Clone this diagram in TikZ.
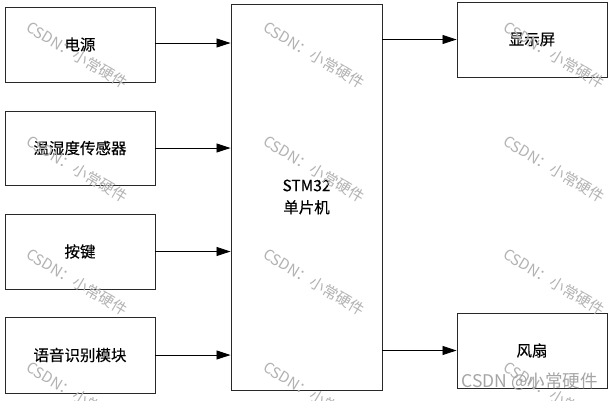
\documentclass[tikz,border=0pt]{standalone}
\usepackage{fontspec}
\newfontfamily\cjk{Noto Sans CJK SC}
\newfontfamily\cjkb[FakeBold=0.12]{Noto Sans CJK SC}
\usetikzlibrary{arrows.meta}
\definecolor{wm}{RGB}{178,178,178}
\definecolor{wm2}{RGB}{165,165,165}
\definecolor{edge}{RGB}{40,40,40}
\tikzset{
  blk/.style={draw=edge, line width=0.9pt, fill=white, inner sep=0pt, font=\cjkb\fontsize{15.5}{22}\selectfont, align=center},
  conn/.style={line width=0.8pt, -{Triangle[length=14pt,width=9pt]}},
  wmark/.style={font=\cjk\fontsize{15}{15}\selectfont, text=wm, rotate=-31, inner sep=0pt},
}
\begin{document}
\begin{tikzpicture}[x=1pt,y=-1pt]
\useasboundingbox (0,0) rectangle (613,400);
% boxes
\node[blk, minimum width=150pt, minimum height=75pt] (pwr)  at (80,44.5)  {电源};
\node[blk, minimum width=150pt, minimum height=74pt] (sens) at (80,148)   {温湿度传感器};
\node[blk, minimum width=150pt, minimum height=75pt] (key)  at (80,251.5) {按键};
\node[blk, minimum width=150pt, minimum height=76pt] (voice) at (80,355)  {语音识别模块};
\node[blk, minimum width=151pt, minimum height=386pt] (mcu) at (306.5,197) {STM32\\单片机};
\node[blk, minimum width=150pt, minimum height=75pt] (disp) at (532,39.5)  {显示屏};
\node[blk, minimum width=150pt, minimum height=75pt] (fan)  at (532,350.5) {风扇};
% connectors
\draw[conn] ([yshift=1.5pt]pwr.east) -- ([yshift=1.5pt]pwr.east -| mcu.west);
\draw[conn] (sens.east) -- (sens.east -| mcu.west);
\draw[conn] (key.east) -- (key.east -| mcu.west);
\draw[conn] (voice.east) -- (voice.east -| mcu.west);
\draw[conn] (disp.west -| mcu.east) -- (disp.west);
\draw[conn] (fan.west -| mcu.east) -- (fan.west);
% watermarks
\foreach \wx in {77,314,554} {
  \foreach \wy in {55,169,282,395} {
    \node[wmark] at (\wx,\wy) {CSDN：小常硬件};
  }
}
\node[font=\cjk\fontsize{17.5}{17.5}\selectfont, text=wm2, inner sep=0pt] (wmk) at (529.5,382) {CSDN @小常硬件};
\end{tikzpicture}
\end{document}
